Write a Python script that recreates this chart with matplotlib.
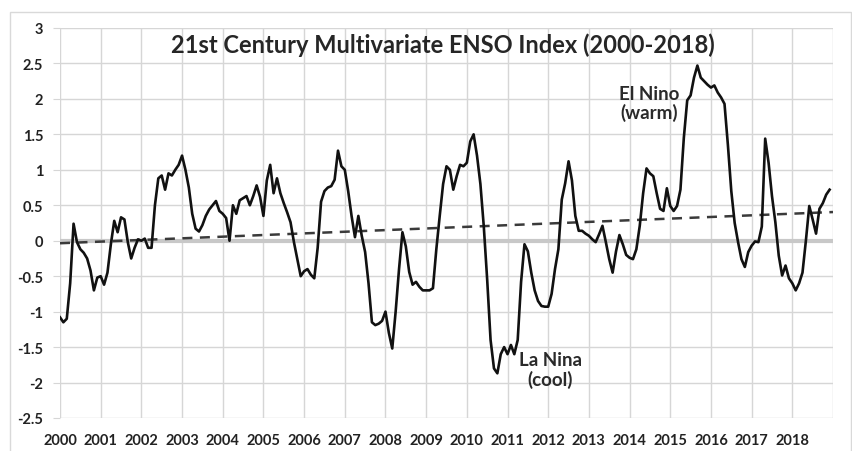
import matplotlib
matplotlib.use("Agg")
import matplotlib.pyplot as plt
import matplotlib.patches as patches
import numpy as np

# monthly MEI values, Jan..Dec of each year
mei_2000 = [-1.08, -1.15, -1.10, -0.60, 0.24, -0.02, -0.12, -0.17, -0.25, -0.42, -0.70, -0.52]
mei_2001 = [-0.50, -0.62, -0.45, -0.05, 0.28, 0.12, 0.33, 0.30, -0.02, -0.25, -0.10, 0.02]
mei_2002 = [0.00, 0.03, -0.10, -0.10, 0.50, 0.88, 0.92, 0.72, 0.95, 0.92, 1.00, 1.07]
mei_2003 = [1.20, 1.00, 0.75, 0.38, 0.17, 0.13, 0.22, 0.35, 0.44, 0.50, 0.56, 0.42]
mei_2004 = [0.38, 0.32, 0.00, 0.50, 0.38, 0.57, 0.60, 0.63, 0.50, 0.63, 0.78, 0.62]
mei_2005 = [0.35, 0.85, 1.07, 0.67, 0.88, 0.67, 0.53, 0.40, 0.26, -0.02, -0.26, -0.50]
mei_2006 = [-0.43, -0.40, -0.48, -0.53, -0.10, 0.55, 0.70, 0.75, 0.77, 0.86, 1.27, 1.05]
mei_2007 = [1.00, 0.70, 0.35, 0.05, 0.35, 0.07, -0.16, -0.60, -1.15, -1.19, -1.17, -1.13]
mei_2008 = [-1.00, -1.30, -1.52, -1.00, -0.40, 0.12, -0.08, -0.44, -0.62, -0.58, -0.65, -0.70]
mei_2009 = [-0.70, -0.70, -0.67, -0.12, 0.35, 0.80, 1.05, 1.00, 0.72, 0.91, 1.07, 1.05]
mei_2010 = [1.10, 1.40, 1.50, 1.20, 0.80, 0.20, -0.55, -1.40, -1.80, -1.87, -1.60, -1.50]
mei_2011 = [-1.60, -1.47, -1.60, -1.40, -0.58, -0.05, -0.15, -0.45, -0.70, -0.85, -0.92, -0.93]
mei_2012 = [-0.93, -0.75, -0.40, -0.12, 0.58, 0.81, 1.12, 0.85, 0.35, 0.14, 0.14, 0.10]
mei_2013 = [0.07, 0.02, -0.02, 0.09, 0.21, -0.02, -0.26, -0.45, -0.15, 0.08, -0.05, -0.20]
mei_2014 = [-0.24, -0.26, -0.12, 0.21, 0.67, 1.02, 0.95, 0.91, 0.67, 0.45, 0.42, 0.74]
mei_2015 = [0.49, 0.42, 0.49, 0.72, 1.45, 1.98, 2.05, 2.30, 2.47, 2.30, 2.25, 2.20]
mei_2016 = [2.16, 2.19, 2.09, 2.02, 1.93, 1.35, 0.70, 0.25, -0.02, -0.26, -0.37, -0.16]
mei_2017 = [-0.07, -0.01, -0.02, 0.20, 1.44, 1.10, 0.63, 0.26, -0.21, -0.49, -0.35, -0.53]
mei_2018 = [-0.60, -0.70, -0.60, -0.45, 0.00, 0.49, 0.30, 0.10, 0.45, 0.53, 0.65, 0.72]

years = list(range(2000, 2019))
yticks = [3, 2.5, 2, 1.5, 1, 0.5, 0, -0.5, -1, -1.5, -2, -2.5]
title = "21st Century Multivariate ENSO Index (2000-2018)"

mei = np.concatenate([mei_2000, mei_2001, mei_2002, mei_2003, mei_2004,
                      mei_2005, mei_2006, mei_2007, mei_2008, mei_2009,
                      mei_2010, mei_2011, mei_2012, mei_2013, mei_2014,
                      mei_2015, mei_2016, mei_2017, mei_2018])
t = years[0] + np.arange(len(mei)) / 12.0

# linear trend like the excel trendline
k, b = np.polyfit(t, mei, 1)
trend_x = np.array([years[0], years[-1] + 1])
trend_y = k * trend_x + b

plt.rcParams['font.family'] = ['Lato', 'DejaVu Sans']

fig = plt.figure(figsize=(8.52, 4.52), dpi=100)
ax = fig.add_axes([60 / 852, 1 - 419 / 452, 773 / 852, 390 / 452])

grid_c = '#d6d6d6'
ax.set_xlim(years[0], years[-1] + 1)
ax.set_ylim(-2.5, 3)
ax.set_xticks(years + [years[-1] + 1])
ax.set_xticklabels([str(y) for y in years] + [''])
ax.set_yticks(yticks)
ax.set_yticklabels(['%g' % v for v in yticks])
ax.grid(True, color=grid_c, lw=1)
ax.set_axisbelow(True)
for s in ax.spines.values():
    s.set_visible(False)
ax.tick_params(axis='y', length=5, color=grid_c, pad=7, labelsize=10.5, labelcolor='#222222')
ax.tick_params(axis='x', length=0, pad=11, labelsize=10.5, labelcolor='#222222')
for lab in ax.get_xticklabels() + ax.get_yticklabels():
    lab.set_fontweight('bold')

ax.axhline(0, color='#c8c8c8', lw=3, zorder=1.5)
ax.plot(trend_x, trend_y, color='#3a3a3a', lw=1.8, linestyle=(0, (4, 3)), zorder=2)
ax.plot(t, mei, color='#111111', lw=1.9, zorder=3)

ax.text(0.495, 0.959, title, transform=ax.transAxes, ha='center', va='center',
        fontsize=17, fontweight='bold', color='#262626')
ax.text(2014.47, 1.94, "El Nino\n(warm)", ha='center', va='center', fontsize=13.5,
        fontweight='bold', color='#2a2a2a', linespacing=1.1)
ax.text(2012.05, -1.82, "La Nina\n(cool)", ha='center', va='center', fontsize=13.5,
        fontweight='bold', color='#2a2a2a', linespacing=1.1)

fig.patches.append(patches.Rectangle((10 / 852, -0.01), 841 / 852, 1 - 13 / 452 + 0.01,
                                     transform=fig.transFigure, fill=False,
                                     edgecolor='#d9d9d9', lw=1))

fig.savefig('out.png', dpi=100)
